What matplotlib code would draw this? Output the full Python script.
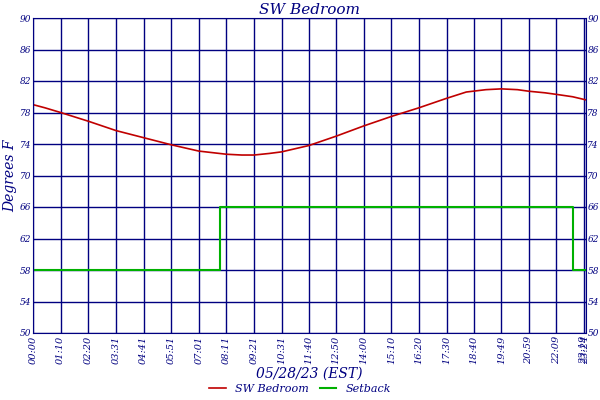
import matplotlib
matplotlib.use("Agg")
import matplotlib.pyplot as plt
import numpy as np

tick_labels = ["00:00","01:10","02:20","03:31","04:41","05:51","07:01","08:11","09:21","10:31",
               "11:40","12:50","14:00","15:10","16:20","17:30","18:40","19:49","20:59","22:09","23:19","23:24"]
# temperature readings (minutes, deg F)
t_min = [0, 30, 70, 140, 211, 281, 351, 421, 491, 530, 561, 600, 631, 700, 770, 840, 910, 980, 1050,
         1100, 1150, 1189, 1230, 1259, 1300, 1329, 1370, 1404]
temp = [79.0, 78.6, 78.0, 76.9, 75.7, 74.8, 73.9, 73.1, 72.7, 72.6, 72.6, 72.8, 73.0, 73.8, 75.0, 76.3,
        77.5, 78.6, 79.8, 80.6, 80.9, 81.0, 80.9, 80.7, 80.5, 80.3, 80.0, 79.6]
set_min = [0, 476, 476, 1370, 1370, 1404]
setback = [58, 58, 66, 66, 58, 58]

def tomin(s):
    h, m = s.split(":"); return int(h)*60+int(m)
ticks = [tomin(s) for s in tick_labels]

navy = "#000080"
plt.rcParams['font.family'] = ['DejaVu Serif']
fig = plt.figure(figsize=(6, 4), dpi=100)
ax = fig.add_axes([33/600, 1-333/400, 553/600, 315/400])
ax.plot(t_min, temp, color="#c00000", lw=1.2, label="SW Bedroom")
ax.plot(set_min, setback, color="#00b000", lw=1.5, label="Setback")
ax.set_xlim(0, 1404)
ax.set_ylim(50, 90)
ax.set_yticks(range(50, 91, 4))
ax.set_xticks(ticks)
ax.set_xticklabels(tick_labels, rotation=90, fontsize=7, style='italic', color=navy)
ax.tick_params(axis='y', labelsize=6.5, colors=navy, length=0, labelright=True, right=False, pad=1)
ax.tick_params(axis='x', length=0, colors=navy, pad=2)
for lab in ax.yaxis.get_ticklabels(which='both'):
    lab.set_style('italic')
for lab in ax.yaxis.get_majorticklabels():
    lab.set_style('italic')
for t in ax.yaxis.get_major_ticks():
    t.label2.set_style('italic')
ax.grid(True, color=navy, lw=1)
for s in ax.spines.values():
    s.set_color(navy)
ax.set_title("SW Bedroom", fontsize=11, style='italic', color=navy, pad=3)
ax.set_ylabel("Degrees F", fontsize=10, style='italic', color=navy, labelpad=2)
ax.set_xlabel("05/28/23 (EST)", fontsize=10, style='italic', color=navy, labelpad=2)
leg = fig.legend(loc='lower center', bbox_to_anchor=(0.5, -0.01), ncol=2, frameon=False,
                 fontsize=8, handlelength=1.5, columnspacing=1)
for t in leg.get_texts():
    t.set_color(navy); t.set_style('italic')
fig.savefig("out.png", dpi=100)
